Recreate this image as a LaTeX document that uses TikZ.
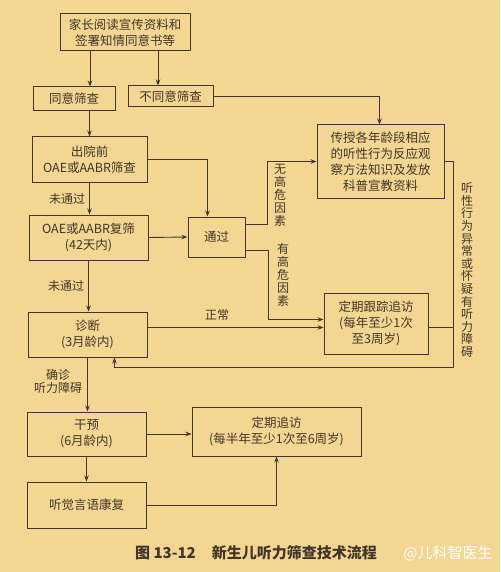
\documentclass[tikz,border=0pt]{standalone}
\usepackage{fontspec}
\setmainfont{Noto Sans CJK SC}
\usetikzlibrary{arrows.meta}
\usetikzlibrary{calc}
\definecolor{paper}{RGB}{243,214,145}
\definecolor{ink}{RGB}{66,54,42}

\begin{document}
\begin{tikzpicture}[x=1pt,y=-1pt]
        \tikzstyle{box} = [rectangle, draw=ink, line width=1pt, align=center, inner sep=0pt, text=ink, font=\fontsize{12.5}{16}\selectfont]
        \tikzstyle{arr} = [draw=ink, line width=0.9pt, -{Stealth[length=6pt,width=4.5pt]}]
        \tikzstyle{lbl} = [text=ink, align=center, inner sep=1pt, font=\fontsize{12}{13}\selectfont]

        \fill[paper] (0,0) rectangle (500,572);

        \node[box, minimum width=130pt, minimum height=37pt] (top) at (125,32.5) {家长阅读宣传资料和\\签署知情同意书等};
        \node[box, minimum width=82pt, minimum height=24pt] (agree) at (74,99) {同意筛查};
        \node[box, minimum width=85pt, minimum height=21pt] (disagree) at (170.5,96.5) {不同意筛查};
        \node[box, minimum width=115pt, minimum height=45pt] (pre) at (89.5,159.5) {出院前\\OAE或AABR筛查};
        \node[box, minimum width=127pt, minimum height=73pt] (teach) at (380.5,161.5) {传授各年龄段相应\\的听性行为反应观\\察方法知识及发放\\科普宣教资料};
        \node[box, minimum width=57pt, minimum height=40pt] (pass) at (216.5,237) {通过};
        \node[box, minimum width=119pt, minimum height=45pt] (rescreen) at (88.5,237.5) {OAE或AABR复筛\\(42天内)};
        \node[box, minimum width=104pt, minimum height=61pt] (follow) at (376,323.5) {定期跟踪追访\\(每年至少1次\\至3周岁)};
        \node[box, minimum width=119pt, minimum height=45pt] (diag) at (87.5,334.5) {诊断\\(3月龄内)};
        \node[box, minimum width=119pt, minimum height=44pt] (interv) at (86.5,434) {干预\\(6月龄内)};
        \node[box, minimum width=169pt, minimum height=49pt] (revisit) at (276.5,431.5) {定期追访\\(每半年至少1次至6周岁)};
        \node[box, minimum width=119pt, minimum height=46pt] (rehab) at (86.5,505) {听觉言语康复};

        \draw[arr] ([xshift=-35pt]top.south) -- ([xshift=-35pt]top.south |- agree.north);
        \draw[arr] ([xshift=33pt]top.south) -- ([xshift=33pt]top.south |- disagree.north);
        \draw[arr] (pre.north |- agree.south) -- (pre.north);
        \draw[arr] (disagree.east) -| ([xshift=-1pt]teach.north);
        \draw[arr] (pre.east) -| ([xshift=-9pt]pass.north);

        \foreach \a/\b in {pre/rescreen, rescreen/diag}
        {
                \draw[arr] (\a.south) -- (\a.south |- \b.north) node[lbl, midway, left, xshift=-3pt] {未通过};
        }

        \draw[arr] (rescreen.east) -- (pass.west);
        \draw[arr] ([yshift=13pt]pass.east) -- ++(22,0) |- (teach.west);
        \draw[arr] ([yshift=-13pt]pass.east) -- ++(23,0) |- ([yshift=4pt]follow.west);
        \draw[arr] ([yshift=-4pt]follow.west -| diag.east) -- ([yshift=-4pt]follow.west);
        \node[lbl] (nohigh) at (280,195) {无\\高\\危\\因\\素};
        \node[lbl] (high) at (283,275) {有\\高\\危\\因\\素};
        \node[lbl] (normal) at (217,315) {正常};

        \draw[arr] (teach.east) -- ++(9,0) -- ++(0,206) -| ([xshift=27pt]diag.south);
        \draw[draw=ink, line width=0.9pt] ([yshift=-4pt]follow.east) -- ++(25,0);
        \node[lbl, font=\fontsize{12}{12.6}\selectfont] (abn) at (467,270) {听\\性\\行\\为\\异\\常\\或\\怀\\疑\\有\\听\\力\\障\\碍};

        \draw[arr] (diag.south) -- (diag.south |- interv.north) node[lbl, midway, left, xshift=-4pt, yshift=3pt] {确诊\\听力障碍};
        \draw[arr] (interv.east) -- (interv.east -| revisit.west);
        \draw[arr] (interv.south) -- (rehab.north);
        \draw[arr] (rehab.east) -| (revisit.south);

        \node[text=ink, font=\fontsize{15}{17}\selectfont\bfseries] (title) at (256,553) {图 13-12\hspace{16pt}新生儿听力筛查技术流程};
        \node[text=white, font=\fontsize{15}{17}\selectfont] (mark) at (448,553) {@儿科智医生};
\end{tikzpicture}
\end{document}
